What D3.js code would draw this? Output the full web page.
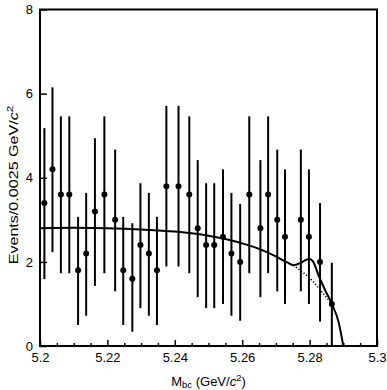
<!DOCTYPE html>
<html><head><meta charset="utf-8">
<script src="https://cdn.jsdelivr.net/npm/d3@7"></script>
<style>
body{margin:0;background:#fff}
svg{display:block}
text{font-family:"Liberation Sans",Arial,Helvetica,sans-serif;fill:#000}
</style>
</head><body><svg id="c" width="387" height="390"></svg>
<script>
// ---- data ----
const mass = [5.2013,5.2037,5.2062,5.2087,5.2113,5.2137,5.2163,5.2191,5.2223,5.2247,5.2274,5.2298,5.2323,5.2347,5.2375,5.2411,5.2443,5.2468,5.2493,5.2517,5.2543,5.2568,5.2594,5.2621,5.2654,5.2677,5.2704,5.2727,5.2774,5.2798,5.2831,5.2866];
const events = [3.4,4.2,3.6,3.6,1.8,2.2,3.2,3.6,3.0,1.8,1.6,2.4,2.2,1.8,3.8,3.8,3.6,2.8,2.4,2.4,2.6,2.2,2.0,3.6,2.8,3.6,3.0,2.6,3.0,2.6,2.0,1.0];
const errHigh = [5.18,6.15,5.46,5.46,3.07,3.64,4.94,5.46,4.67,3.07,2.92,3.87,3.64,3.07,5.71,5.71,5.46,4.42,3.87,3.87,4.2,3.64,3.38,5.46,4.42,5.46,4.67,4.2,4.67,4.2,3.4,1.98];
const errLow  = [1.59,2.23,1.73,1.73,0.5,0.72,1.43,1.73,1.3,0.5,0.34,0.9,0.72,0.5,1.89,1.89,1.73,1.16,0.9,0.9,1.0,0.72,0.6,1.73,1.16,1.73,1.3,1.0,1.3,1.0,0.58,0];
const fitMass  = [5.200,5.210,5.220,5.230,5.240,5.250,5.260,5.265,5.270,5.2735,5.2752,5.2772,5.2790,5.2800,5.2811,5.2826,5.2846,5.2866,5.2887,5.2895,5.2900];
const fitTotal = [2.80,2.81,2.80,2.77,2.72,2.62,2.44,2.31,2.13,1.98,1.92,1.97,2.05,2.07,2.00,1.69,1.33,1.00,0.54,0.22,0.00];
const bkgMass  = [5.2752,5.2777,5.2806,5.2836,5.2866];
const bkgValue = [1.92,1.77,1.57,1.29,1.00];
const xMajor = [5.2,5.22,5.24,5.26,5.28,5.3];
const xMajorLabels = ["5.2","5.22","5.24","5.26","5.28","5.3"];
const xMinor = [5.205,5.21,5.215,5.225,5.23,5.235,5.245,5.25,5.255,5.265,5.27,5.275,5.285,5.29,5.295];
const yMajor = [0,2,4,6,8];

// ---- layout ----
const L=40, R=377, T=9.5, B=346;
const svg = d3.select("#c");
const x = d3.scaleLinear().domain([5.2,5.3]).range([L,R]);
const y = d3.scaleLinear().domain([0,8]).range([B,T]);

// x axis
const gxMin = svg.append("g").attr("transform",`translate(0,${B})`)
  .call(d3.axisBottom(x).tickValues(xMinor).tickSize(-3).tickFormat(""));
const gx = svg.append("g").attr("transform",`translate(0,${B})`)
  .call(d3.axisBottom(x).tickValues(xMajor).tickSize(-6).tickPadding(7)
        .tickFormat((d,i)=>xMajorLabels[i]));
// y axis
const gy = svg.append("g").attr("transform",`translate(${L},0)`)
  .call(d3.axisLeft(y).tickValues(yMajor).tickSize(-7).tickPadding(7).tickFormat(d3.format("d")));
[gxMin,gx,gy].forEach(g=>{
  g.select(".domain").remove();
  g.selectAll(".tick line").attr("stroke","#000").attr("stroke-width",1.5);
  g.selectAll("text").attr("font-size",13).attr("font-family",'"Liberation Sans",Arial,sans-serif');
});

// frame
svg.append("rect").attr("x",L).attr("y",T).attr("width",R-L).attr("height",B-T)
  .attr("fill","none").attr("stroke","#000").attr("stroke-width",2);

// curves
const line = d3.line().x(d=>x(d[0])).y(d=>y(d[1])).curve(d3.curveMonotoneX);
svg.append("path").datum(bkgMass.map((m,i)=>[m,bkgValue[i]]))
  .attr("d",line).attr("fill","none").attr("stroke","#000").attr("stroke-width",1.6)
  .attr("stroke-dasharray","1.2,2");
svg.append("path").datum(fitMass.map((m,i)=>[m,fitTotal[i]]))
  .attr("d",line).attr("fill","none").attr("stroke","#000").attr("stroke-width",2);

// error bars and points
const pts = mass.map((m,i)=>({m, v:events[i], hi:errHigh[i], lo:errLow[i]}));
svg.append("g").selectAll("line").data(pts).join("line")
  .attr("x1",d=>x(d.m)).attr("x2",d=>x(d.m))
  .attr("y1",d=>y(d.hi)).attr("y2",d=>y(d.lo))
  .attr("stroke","#000").attr("stroke-width",2);
svg.append("g").selectAll("circle").data(pts).join("circle")
  .attr("cx",d=>x(d.m)).attr("cy",d=>y(d.v)).attr("r",3).attr("fill","#000");

// axis titles
const xt = svg.append("text").attr("x",(L+R)/2).attr("y",386).attr("text-anchor","middle").attr("font-size",13);
xt.append("tspan").text("M");
xt.append("tspan").attr("font-size",9.5).attr("dy",2).text("bc");
xt.append("tspan").attr("dy",-2).text(" (GeV/");
xt.append("tspan").attr("font-style","italic").text("c");
xt.append("tspan").attr("font-size",9.5).attr("dy",-5).text("2");
xt.append("tspan").attr("dy",5).text(")");

const yt = svg.append("text").attr("text-anchor","middle").attr("font-size",13)
  .attr("transform",`translate(18,185) rotate(-90) scale(1.24,1)`);
yt.append("tspan").text("Events/0.0025 GeV/");
yt.append("tspan").attr("font-style","italic").text("c");
yt.append("tspan").attr("font-size",9.5).attr("dy",-5).text("2");
</script>
</body></html>
